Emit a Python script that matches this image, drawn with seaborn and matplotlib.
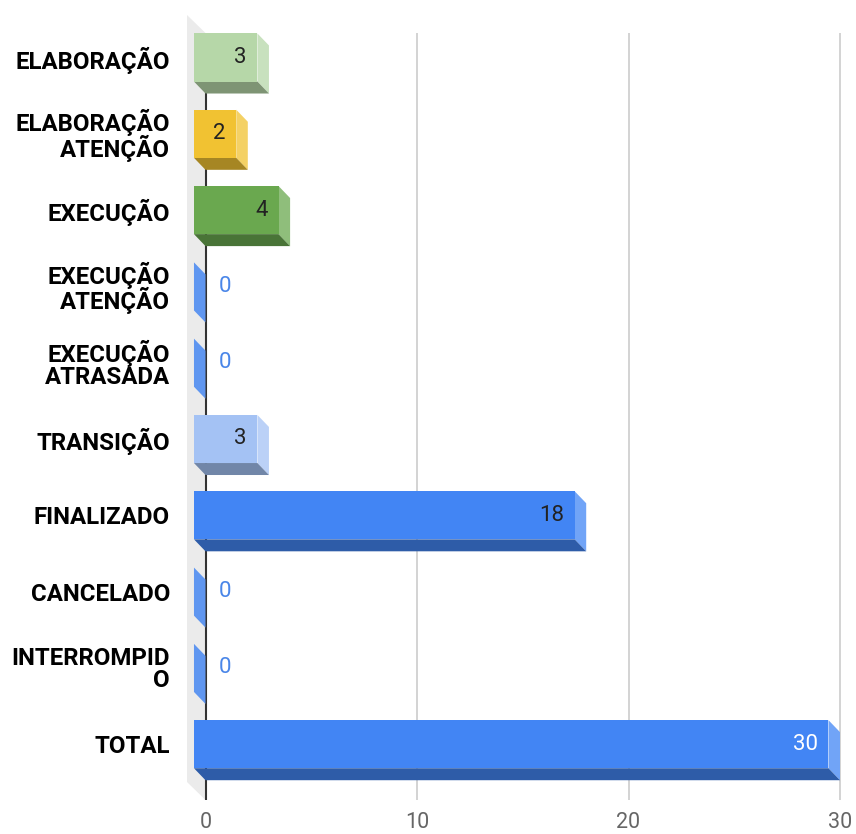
import matplotlib
matplotlib.use("Agg")
import matplotlib.pyplot as plt
from matplotlib.patches import Polygon
import matplotlib.colors as mcolors
import seaborn as sns
import pandas as pd

categories = ["ELABORAÇÃO", "ELABORAÇÃO\nATENÇÃO", "EXECUÇÃO", "EXECUÇÃO\nATENÇÃO",
              "EXECUÇÃO\nATRASADA", "TRANSIÇÃO", "FINALIZADO", "CANCELADO",
              "INTERROMPID\nO", "TOTAL"]
values = [3, 2, 4, 0, 0, 3, 18, 0, 0, 30]
x_ticks = [0, 10, 20, 30]

front_colors = ["#b6d7a8", "#f1c232", "#6aa84f", "#4285f4", "#4285f4",
                "#a4c2f4", "#4285f4", "#4285f4", "#4285f4", "#4285f4"]


def lighten(c, f=0.25):
    r, g, b = mcolors.to_rgb(c)
    return (r + (1 - r) * f, g + (1 - g) * f, b + (1 - b) * f)


def darken(c, f=0.69):
    r, g, b = mcolors.to_rgb(c)
    return (r * f, g * f, b * f)


df = pd.DataFrame({"cat": categories, "val": values})

sns.set_theme(style="white")
plt.rcParams["font.family"] = ["Roboto", "DejaVu Sans"]

W, H = 856, 834
fig = plt.figure(figsize=(W / 100, H / 100), dpi=100)
ax_l, ax_r, ax_t, ax_b = 185, 850, 10, 805
ax = fig.add_axes([ax_l / W, (H - ax_b) / H, (ax_r - ax_l) / W, (ax_b - ax_t) / H])

BW = 0.63      # bar thickness (category units)
DX = 0.545     # 3D depth in x (data units)
DY = 0.157     # 3D depth in y (category units)

sns.barplot(data=df, x="val", y="cat", hue="cat", order=categories, hue_order=categories,
            palette=front_colors, legend=False, width=BW, orient="h", ax=ax,
            saturation=1, linewidth=0, zorder=3)

px_per_unit = 21.15
x0_px = 205.5
ax.set_xlim((ax_l - x0_px) / px_per_unit, (ax_r - x0_px) / px_per_unit)
y0_px, step = 57.5, 76.3
ax.set_ylim((ax_b - y0_px) / step, (ax_t - y0_px) / step)

bars = list(ax.patches)
for p in bars:
    yc = p.get_y() + p.get_height() / 2
    i = int(round(yc))
    v = values[i]
    fc = front_colors[i]
    top, bot = i - BW / 2, i + BW / 2
    p.set_x(-DX)
    p.set_zorder(3)
    # right side face
    side = Polygon([(v - DX, top), (v, top + DY), (v, bot + DY), (v - DX, bot)],
                   closed=True, facecolor=lighten(fc) if v > 0 else "#5f96f0",
                   edgecolor="none", zorder=2.9)
    ax.add_patch(side)
    if v > 0:
        bottom = Polygon([(-DX, bot), (v - DX, bot), (v, bot + DY), (0, bot + DY)],
                         closed=True, facecolor=darken(fc), edgecolor="none", zorder=2.9)
        ax.add_patch(bottom)
        ax.text(v - DX - 0.5, i, str(v), ha="right", va="center", fontsize=16,
                color="white" if i == len(values) - 1 else "#222222", zorder=5)
    else:
        ax.text(0.62, i, str(v), ha="left", va="center", fontsize=16,
                color="#4a86e8", zorder=5)

# back wall (3D)
g_top, g_bot = (33 - y0_px) / step, (800 - y0_px) / step
wx = (187 - x0_px) / px_per_unit
wall = Polygon([(wx, (15 - y0_px) / step), (0, g_top), (0, g_bot), (wx, (782 - y0_px) / step)],
               closed=True, facecolor="#ebebeb", edgecolor="none", zorder=0)
ax.add_patch(wall)

# gridlines and zero axis line
ax.vlines([t for t in x_ticks if t != 0], g_top, g_bot, colors="#cccccc", linewidth=1.2, zorder=1)
ax.vlines([0], g_top, g_bot, colors="#333333", linewidth=1.5, zorder=1.5)

for s in ax.spines.values():
    s.set_visible(False)
ax.grid(False)
ax.set_xlabel("")
ax.set_ylabel("")
ax.set_xticks(x_ticks)
ax.set_xticklabels([str(t) for t in x_ticks])
ax.tick_params(axis="x", length=0, pad=5, labelsize=15.5, labelcolor="#666666")
ax.tick_params(axis="y", length=0, pad=10.8, labelsize=17.3, labelcolor="#000000")
ax.set_yticks(range(len(categories)))
ax.set_yticklabels(categories)
for lab in ax.get_yticklabels():
    lab.set_fontweight("bold")
    lab.set_linespacing(0.92)

fig.savefig("out.png", dpi=100)
